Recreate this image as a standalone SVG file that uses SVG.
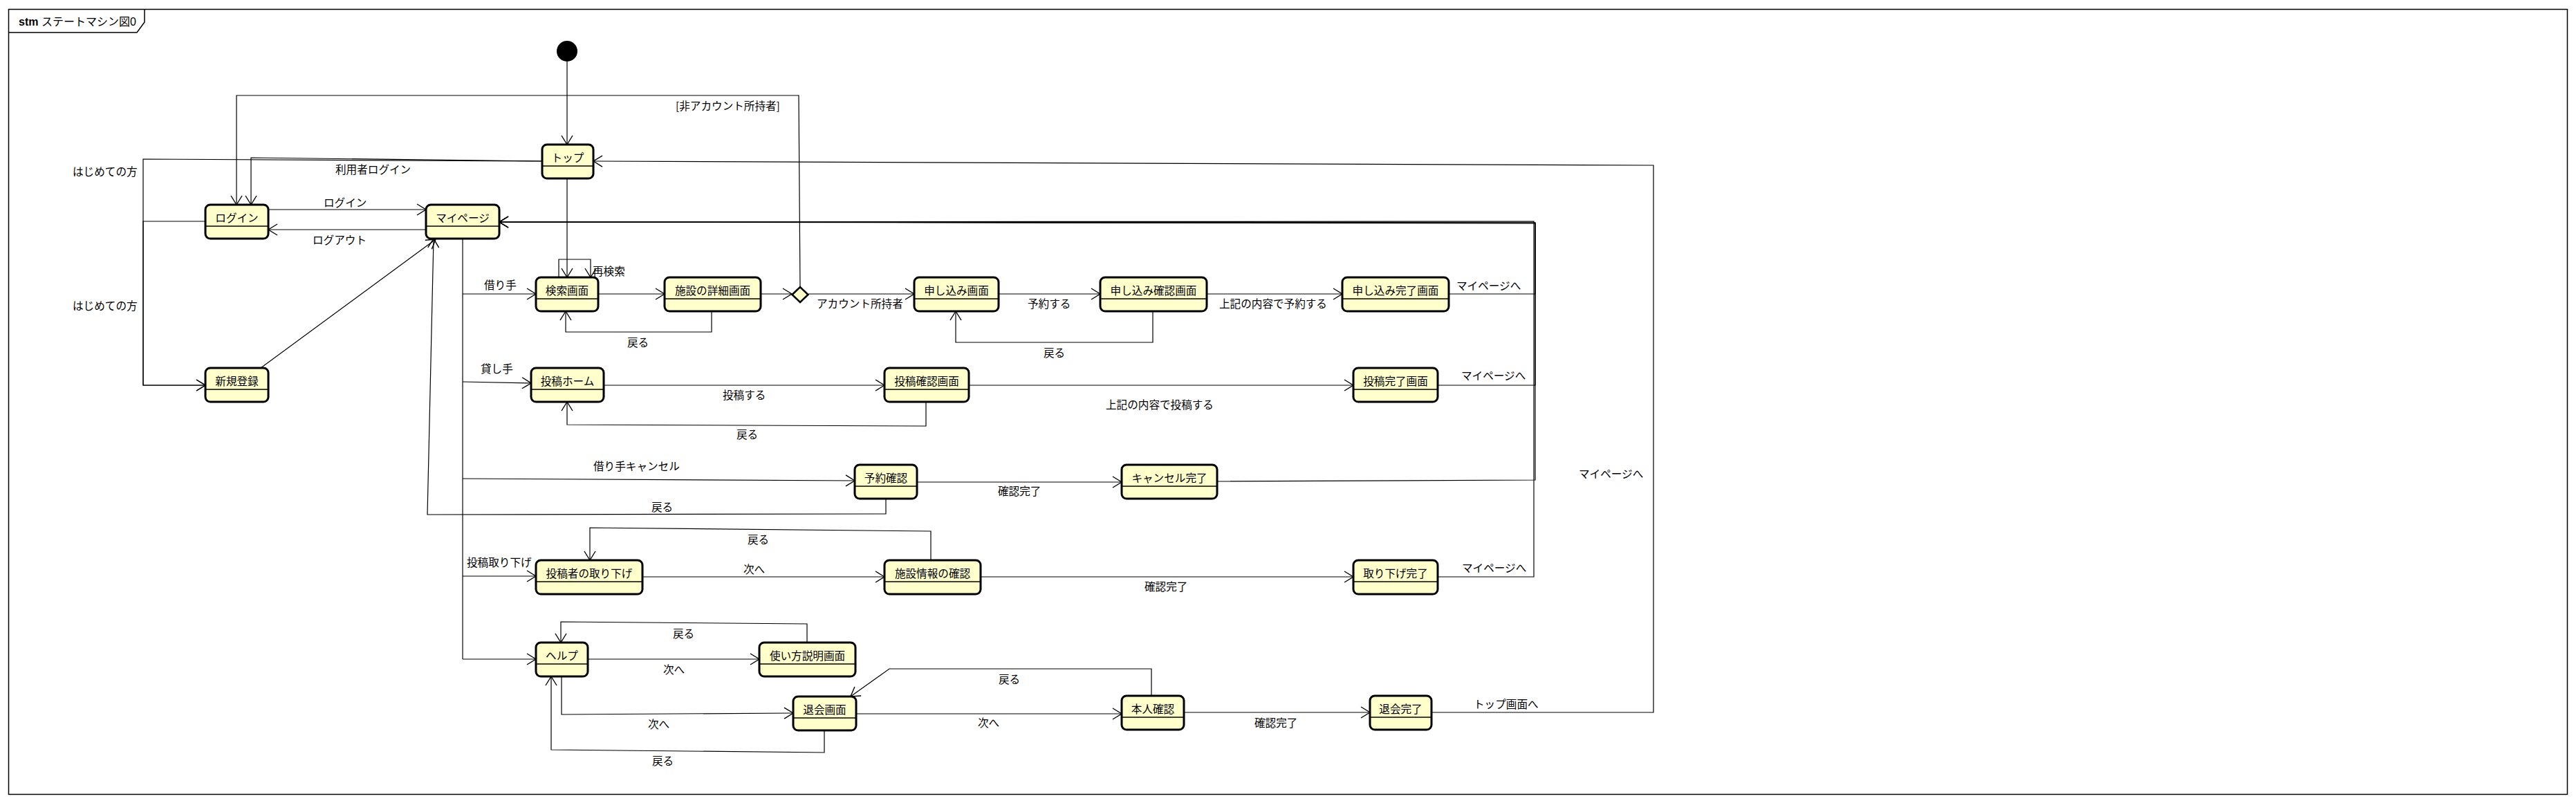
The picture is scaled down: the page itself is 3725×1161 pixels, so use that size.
<svg xmlns="http://www.w3.org/2000/svg" width="3725" height="1161" viewBox="0 0 3725 1161">
<defs>
<style>
.frame{fill:none;stroke:#000;stroke-width:1.5}
.st rect.b{fill:#FFFFCC;stroke:#000;stroke-width:3}
.st line{stroke:#000;stroke-width:1.5}
.st text{font-family:"Noto Sans CJK JP","Liberation Sans",sans-serif;font-size:15.6px;text-anchor:middle;fill:#000}
.c path{fill:none;stroke:#000;stroke-width:1.2}
.c .a{marker-end:url(#arr)}
.lbl text{font-family:"Noto Sans CJK JP","Liberation Sans",sans-serif;font-size:15.6px;fill:#000}
.title{font-family:"Liberation Sans","Noto Sans CJK JP",sans-serif;font-size:16px;fill:#000}
</style>
<marker id="arr" viewBox="-15 -10 17 20" markerWidth="17" markerHeight="20" refX="0" refY="0" orient="auto" markerUnits="userSpaceOnUse" overflow="visible">
<path d="M-13,-8 L0,0 L-13,8" fill="none" stroke="#000" stroke-width="1.4"/>
</marker>
</defs>
<rect x="0" y="0" width="3725" height="1161" fill="#fff"/>
<g id="frame">
<rect class="frame" x="12.5" y="13.5" width="3700" height="1135"/>
<path class="frame" d="M12.5,47 H198 L209,32 V13.5"/>
<text class="title" x="27" y="37"><tspan font-weight="bold">stm</tspan> ステートマシン図0</text>
</g>

<g class="c" id="connectors">
<path class="a" d="M820,89 V209"/>
<path class="a" d="M784,233 L363,228 V296"/>
<path class="a" d="M784,233 L207,230 V557 H297"/>
<path class="a" d="M297,320 H207 V557 H297"/>
<path class="a" d="M1157,415 L1155,138 H342 V296"/>
<path class="a" d="M388,303 H616"/>
<path class="a" d="M616,332 H388"/>
<path class="a" d="M377,532 L630,346"/>
<path class="a" d="M1281,721 V743 L618,744 L627,345"/>
<path class="a" d="M820,258 V401"/>
<path class="a" d="M808,401 V375 H854 V401"/>
<path d="M669,345 V953"/>
<path class="a" d="M669,425 H775"/>
<path class="a" d="M669,552 L768,554"/>
<path class="a" d="M669,692 L1236,695"/>
<path class="a" d="M669,833 H775"/>
<path class="a" d="M669,953 H775"/>
<path class="a" d="M865,425 H961"/>
<path class="a" d="M1029,450 V480 H818 V450"/>
<path class="a" d="M1100,425 H1145"/>
<path class="a" d="M1169,425 H1322"/>
<path class="a" d="M1444,425 H1591"/>
<path class="a" d="M1667,450 V495 H1382 V450"/>
<path class="a" d="M1745,425 H1941"/>
<path class="a" d="M2095,425 H2220 V322 L722,321"/>
<path class="a" d="M873,557 H1279"/>
<path class="a" d="M1339,581 V616 L820,614 V581"/>
<path class="a" d="M1401,557 H1957"/>
<path class="a" d="M2079,557 H2220 V323 L722,321"/>
<path class="a" d="M1326,697 H1622"/>
<path class="a" d="M1760,696 L2220,694 V322 L722,321"/>
<path class="a" d="M929,834 H1279"/>
<path class="a" d="M1346,810 V768 L853,763 V810"/>
<path class="a" d="M1418,834 H1957"/>
<path class="a" d="M2079,834 H2218 V320 L722,321"/>
<path class="a" d="M850,953 H1098"/>
<path class="a" d="M1167,929 V902 L811,899 V929"/>
<path class="a" d="M812,978 V1033 L1147,1031"/>
<path class="a" d="M1192,1056 V1088 L797,1084 V978"/>
<path class="a" d="M1238,1032 H1622"/>
<path class="a" d="M1665,1006 V967 H1286 L1230,1007"/>
<path class="a" d="M1712,1030 H1981"/>
<path class="a" d="M2070,1030 H2391 V239 L858,233"/>
</g>

<g class="lbl" id="labels">
<text x="485" y="250.5">利用者ログイン</text>
<text x="105" y="253.5">はじめての方</text>
<text x="105" y="447.5">はじめての方</text>
<text x="977" y="158.5">[非アカウント所持者]</text>
<text x="468" y="298.5">ログイン</text>
<text x="452" y="352.5">ログアウト</text>
<text x="857" y="397.5">再検索</text>
<text x="700" y="417.5">借り手</text>
<text x="907" y="500.5">戻る</text>
<text x="1181" y="444.5">アカウント所持者</text>
<text x="1486" y="444.5">予約する</text>
<text x="1509" y="515.5">戻る</text>
<text x="1763" y="444.5">上記の内容で予約する</text>
<text x="2106" y="418.5">マイページへ</text>
<text x="695" y="538.5">貸し手</text>
<text x="1045" y="576.5">投稿する</text>
<text x="1065" y="633.5">戻る</text>
<text x="1599" y="590.5">上記の内容で投稿する</text>
<text x="2113" y="548.5">マイページへ</text>
<text x="858" y="679.5">借り手キャンセル</text>
<text x="942" y="738.5">戻る</text>
<text x="1443" y="715.5">確認完了</text>
<text x="2283" y="690.5">マイページへ</text>
<text x="1081" y="785.5">戻る</text>
<text x="675" y="818.5">投稿取り下げ</text>
<text x="1075" y="828.5">次へ</text>
<text x="1655" y="853.5">確認完了</text>
<text x="2114" y="826.5">マイページへ</text>
<text x="973" y="921.5">戻る</text>
<text x="959" y="973.5">次へ</text>
<text x="1444" y="987.5">戻る</text>
<text x="2131" y="1023.5">トップ画面へ</text>
<text x="937" y="1052.5">次へ</text>
<text x="1414" y="1050.5">次へ</text>
<text x="1814" y="1050.5">確認完了</text>
<text x="943" y="1105.5">戻る</text>
</g>

<g id="initial"><circle cx="820" cy="74" r="15" fill="#000"/></g>
<g id="decision"><path d="M1145.5,426 L1157,415 L1168.5,426 L1157,437 Z" fill="#FFFFCC" stroke="#000" stroke-width="2.5"/></g>

<g class="st" id="n-top"><rect class="b" x="784" y="209" width="74" height="49" rx="7"/><line x1="784" y1="240" x2="858" y2="240"/><text x="821" y="233.5">トップ</text></g>
<g class="st" id="n-login"><rect class="b" x="297" y="296" width="91" height="49" rx="7"/><line x1="297" y1="327" x2="388" y2="327"/><text x="342.5" y="320.5">ログイン</text></g>
<g class="st" id="n-mypage"><rect class="b" x="616" y="296" width="106" height="49" rx="7"/><line x1="616" y1="327" x2="722" y2="327"/><text x="669" y="320.5">マイページ</text></g>
<g class="st" id="n-register"><rect class="b" x="297" y="532" width="91" height="49" rx="7"/><line x1="297" y1="563" x2="388" y2="563"/><text x="342.5" y="556.5">新規登録</text></g>
<g class="st" id="n-search"><rect class="b" x="775" y="401" width="90" height="49" rx="7"/><line x1="775" y1="432" x2="865" y2="432"/><text x="820" y="425.5">検索画面</text></g>
<g class="st" id="n-detail"><rect class="b" x="961" y="401" width="139" height="49" rx="7"/><line x1="961" y1="432" x2="1100" y2="432"/><text x="1030.5" y="425.5">施設の詳細画面</text></g>
<g class="st" id="n-apply"><rect class="b" x="1322" y="401" width="122" height="49" rx="7"/><line x1="1322" y1="432" x2="1444" y2="432"/><text x="1383" y="425.5">申し込み画面</text></g>
<g class="st" id="n-applyconf"><rect class="b" x="1591" y="401" width="154" height="49" rx="7"/><line x1="1591" y1="432" x2="1745" y2="432"/><text x="1668" y="425.5">申し込み確認画面</text></g>
<g class="st" id="n-applydone"><rect class="b" x="1941" y="401" width="154" height="49" rx="7"/><line x1="1941" y1="432" x2="2095" y2="432"/><text x="2018" y="425.5">申し込み完了画面</text></g>
<g class="st" id="n-posthome"><rect class="b" x="768" y="532" width="105" height="49" rx="7"/><line x1="768" y1="563" x2="873" y2="563"/><text x="820.5" y="556.5">投稿ホーム</text></g>
<g class="st" id="n-postconf"><rect class="b" x="1279" y="532" width="122" height="49" rx="7"/><line x1="1279" y1="563" x2="1401" y2="563"/><text x="1340" y="556.5">投稿確認画面</text></g>
<g class="st" id="n-postdone"><rect class="b" x="1957" y="532" width="122" height="49" rx="7"/><line x1="1957" y1="563" x2="2079" y2="563"/><text x="2018" y="556.5">投稿完了画面</text></g>
<g class="st" id="n-resconf"><rect class="b" x="1236" y="672" width="90" height="49" rx="7"/><line x1="1236" y1="703" x2="1326" y2="703"/><text x="1281" y="696.5">予約確認</text></g>
<g class="st" id="n-canceldone"><rect class="b" x="1622" y="672" width="138" height="49" rx="7"/><line x1="1622" y1="703" x2="1760" y2="703"/><text x="1691" y="696.5">キャンセル完了</text></g>
<g class="st" id="n-withdraw"><rect class="b" x="775" y="810" width="154" height="49" rx="7"/><line x1="775" y1="841" x2="929" y2="841"/><text x="852" y="834.5">投稿者の取り下げ</text></g>
<g class="st" id="n-facconf"><rect class="b" x="1279" y="810" width="139" height="49" rx="7"/><line x1="1279" y1="841" x2="1418" y2="841"/><text x="1348.5" y="834.5">施設情報の確認</text></g>
<g class="st" id="n-withdrawdone"><rect class="b" x="1957" y="810" width="122" height="49" rx="7"/><line x1="1957" y1="841" x2="2079" y2="841"/><text x="2018" y="834.5">取り下げ完了</text></g>
<g class="st" id="n-help"><rect class="b" x="775" y="929" width="75" height="49" rx="7"/><line x1="775" y1="960" x2="850" y2="960"/><text x="812.5" y="953.5">ヘルプ</text></g>
<g class="st" id="n-howto"><rect class="b" x="1098" y="929" width="139" height="49" rx="7"/><line x1="1098" y1="960" x2="1237" y2="960"/><text x="1167.5" y="953.5">使い方説明画面</text></g>
<g class="st" id="n-leave"><rect class="b" x="1147" y="1007" width="91" height="49" rx="7"/><line x1="1147" y1="1038" x2="1238" y2="1038"/><text x="1192.5" y="1031.5">退会画面</text></g>
<g class="st" id="n-identity"><rect class="b" x="1622" y="1006" width="90" height="49" rx="7"/><line x1="1622" y1="1037" x2="1712" y2="1037"/><text x="1667" y="1030.5">本人確認</text></g>
<g class="st" id="n-leavedone"><rect class="b" x="1981" y="1006" width="89" height="49" rx="7"/><line x1="1981" y1="1037" x2="2070" y2="1037"/><text x="2025.5" y="1030.5">退会完了</text></g>
</svg>
